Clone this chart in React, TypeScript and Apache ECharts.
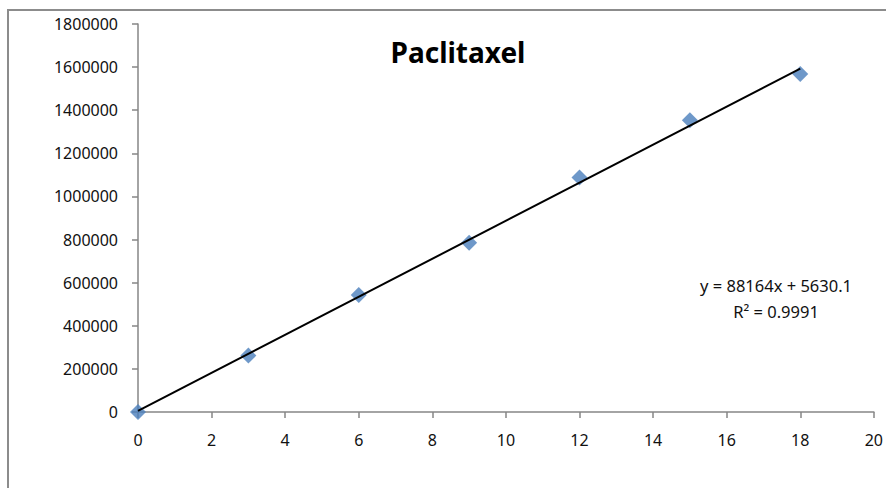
import React, { useEffect, useRef } from "react";
import * as echarts from "echarts";

const xValues = [0, 3, 6, 9, 12, 15, 18];
const yValues = [0, 262000, 543000, 785000, 1088000, 1354000, 1568000];
const slope = 88164;
const intercept = 5630.1;
const trendRange = [0, 18];
const titleText = "Paclitaxel";
const equationText = "y = 88164x + 5630.1";
const r2Text = "R² = 0.9991";

export default function App() {
  const ref = useRef<HTMLDivElement>(null);
  useEffect(() => {
    if (!ref.current) return;
    const chart = echarts.init(ref.current, undefined, { renderer: "svg" });
    const axisGray = "#868686";
    const font = "Noto Sans";
    chart.setOption({
      animation: false,
      backgroundColor: "#ffffff",
      grid: { left: 138, top: 24, right: 11, bottom: 76 },
      title: {
        text: titleText,
        left: 453,
        top: 33,
        textAlign: "center",
        textStyle: { fontFamily: font, fontWeight: "bold", fontSize: 28, color: "#000" },
      },
      graphic: [
        {
          type: "rect",
          shape: { x: 8, y: 10, width: 900, height: 500 },
          style: { fill: "none", stroke: "#8c8c8c", lineWidth: 2 },
          silent: true,
        },
        {
          type: "text",
          x: 776,
          y: 285,
          style: {
            text: equationText,
            fontFamily: font,
            fontSize: 16.5,
            fill: "#111",
            align: "center",
            verticalAlign: "middle",
          },
        },
        {
          type: "text",
          x: 776,
          y: 311,
          style: {
            text: r2Text,
            fontFamily: font,
            fontSize: 16.5,
            fill: "#111",
            align: "center",
            verticalAlign: "middle",
          },
        },
      ],
      xAxis: {
        type: "value",
        min: 0,
        max: 20,
        interval: 2,
        splitLine: { show: false },
        axisLine: { lineStyle: { color: axisGray, width: 1.5 } },
        axisTick: { show: true, length: 6, lineStyle: { color: axisGray, width: 1.5 } },
        axisLabel: { fontFamily: font, fontSize: 16, color: "#111", margin: 20 },
      },
      yAxis: {
        type: "value",
        min: 0,
        max: 1800000,
        interval: 200000,
        splitLine: { show: false },
        axisLine: { show: true, lineStyle: { color: axisGray, width: 1.5 } },
        axisTick: { show: true, length: 6, lineStyle: { color: axisGray, width: 1.5 } },
        axisLabel: {
          fontFamily: font,
          fontSize: 16,
          color: "#111",
          margin: 20,
          formatter: (v: number) => String(v),
        },
      },
      series: [
        {
          type: "line",
          data: trendRange.map((x) => [x, slope * x + intercept]),
          symbol: "none",
          lineStyle: { color: "#000", width: 2 },
          z: 3,
        },
        {
          type: "scatter",
          data: xValues.map((x, i) => [x, yValues[i]]),
          symbol: "diamond",
          symbolSize: 16,
          itemStyle: { color: "#4A7EBB" },
          z: 2,
        },
      ],
    });
    return () => chart.dispose();
  }, []);
  return (
    <div
      ref={ref}
      style={{ position: "fixed", left: 0, top: 0, width: 886, height: 488 }}
    />
  );
}
